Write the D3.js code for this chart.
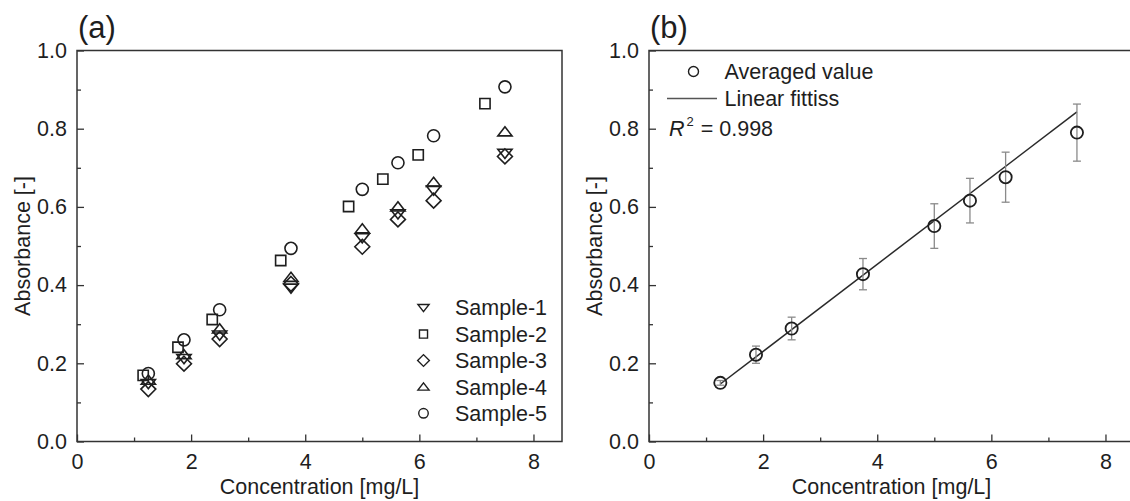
<!DOCTYPE html>
<html>
<head>
<meta charset="utf-8">
<script src="https://cdn.jsdelivr.net/npm/d3@7"></script>
<style>
  html, body { margin: 0; padding: 0; background: #fff; }
  svg { display: block; font-family: "Liberation Sans", Arial, sans-serif; }
</style>
</head>
<body>
<div id="chart"></div>
<script>
// ---- Data ----
const conc = [1.25, 1.875, 2.5, 3.75, 5.0, 5.625, 6.25, 7.5];

// panel (a): five samples
const sample1 = [0.148, 0.212, 0.272, 0.392, 0.521, 0.582, 0.643, 0.737];
const sample2X = [1.16, 1.77, 2.37, 3.57, 4.76, 5.36, 5.98, 7.15];
const sample2 = [0.169, 0.241, 0.312, 0.463, 0.601, 0.671, 0.733, 0.864];
const sample3 = [0.134, 0.199, 0.262, 0.403, 0.498, 0.568, 0.616, 0.729];
const sample4 = [0.157, 0.222, 0.288, 0.420, 0.544, 0.600, 0.663, 0.792];
const sample5 = [0.174, 0.260, 0.337, 0.494, 0.645, 0.713, 0.782, 0.907];
const sampleNames = ["Sample-1", "Sample-2", "Sample-3", "Sample-4", "Sample-5"];

// panel (b): averaged value, error and linear fit
const avgValue = [0.150, 0.222, 0.289, 0.428, 0.551, 0.616, 0.676, 0.790];
const avgError = [0.006, 0.022, 0.029, 0.040, 0.057, 0.057, 0.064, 0.073];
const fitX = [1.25, 7.5];
const fitY = [0.147, 0.843];

const xMajor = [0, 2, 4, 6, 8];
const xMinor = [1, 3, 5, 7];
const yMajor = [0, 0.2, 0.4, 0.6, 0.8, 1.0];
const yMinor = [0.1, 0.3, 0.5, 0.7, 0.9];

// ---- Layout ----
const W = 1130, H = 501;
const ink = "#1e1e1e";
const fontSize = 21.5;

const svg = d3.select("#chart").append("svg")
  .attr("width", W).attr("height", H)
  .attr("viewBox", [0, 0, W, H]);

// marker paths, centred at 0,0
function markerPath(kind, s) {
  const p = d3.path();
  if (kind === "circle") {
    p.arc(0, 0, s * 0.85, 0, 2 * Math.PI);
  } else if (kind === "square") {
    const h = s * 0.72;
    p.rect(-h, -h, 2 * h, 2 * h);
  } else if (kind === "diamond") {
    const h = s * 1.05;
    p.moveTo(0, -h); p.lineTo(h, 0); p.lineTo(0, h); p.lineTo(-h, 0); p.closePath();
  } else if (kind === "up") {
    const w = s * 1.0, t = s * 1.15;
    p.moveTo(0, -t * 0.62); p.lineTo(w, t * 0.5); p.lineTo(-w, t * 0.5); p.closePath();
  } else if (kind === "down") {
    const w = s * 1.0, t = s * 1.15;
    p.moveTo(0, t * 0.62); p.lineTo(w, -t * 0.5); p.lineTo(-w, -t * 0.5); p.closePath();
  }
  return p.toString();
}

function panel(x0, label) {
  const x = d3.scaleLinear([0, 8.5], [x0, x0 + 485]);
  const y = d3.scaleLinear([0, 1], [441.5, 50.5]);
  const g = svg.append("g");

  // frame
  g.append("rect")
    .attr("x", x(0)).attr("y", y(1))
    .attr("width", x(8.5) - x(0)).attr("height", y(0) - y(1))
    .attr("fill", "none").attr("stroke", "#333").attr("stroke-width", 1.5);

  // inward ticks
  const xAxis = d3.axisBottom(x).tickValues(xMajor).tickSize(-7).tickPadding(12)
    .tickFormat(d3.format("d"));
  g.append("g").attr("transform", `translate(0,${y(0)})`).call(xAxis);
  g.append("g").attr("transform", `translate(0,${y(0)})`)
    .call(d3.axisBottom(x).tickValues(xMinor).tickSize(-4).tickFormat(""));

  const yAxis = d3.axisLeft(y).tickValues(yMajor).tickSize(-7).tickPadding(10)
    .tickFormat(d3.format(".1f"));
  g.append("g").attr("transform", `translate(${x(0)},0)`).call(yAxis);
  g.append("g").attr("transform", `translate(${x(0)},0)`)
    .call(d3.axisLeft(y).tickValues(yMinor).tickSize(-4).tickFormat(""));

  g.selectAll(".domain").remove();
  g.selectAll(".tick line").attr("stroke", "#333").attr("stroke-width", 1.3);
  g.selectAll(".tick text")
    .attr("font-family", "Liberation Sans, Arial, sans-serif")
    .attr("font-size", fontSize).attr("fill", ink);

  // axis titles
  g.append("text")
    .attr("x", (x(0) + x(8.5)) / 2).attr("y", 494)
    .attr("text-anchor", "middle")
    .attr("font-size", fontSize).attr("fill", ink)
    .text("Concentration [mg/L]");
  g.append("text")
    .attr("transform", `translate(${x0 - 47},${(y(0) + y(1)) / 2}) rotate(-90)`)
    .attr("text-anchor", "middle")
    .attr("font-size", fontSize).attr("fill", ink)
    .text("Absorbance [-]");

  // panel label
  g.append("text")
    .attr("x", x0 + 1).attr("y", 38)
    .attr("font-size", 31).attr("fill", ink)
    .text(label);

  return { g, x, y };
}

// ---- Panel (a) ----
const a = panel(77, "(a)");
const seriesA = [
  { name: sampleNames[0], kind: "down", xs: conc, ys: sample1 },
  { name: sampleNames[1], kind: "square", xs: sample2X, ys: sample2 },
  { name: sampleNames[2], kind: "diamond", xs: conc, ys: sample3 },
  { name: sampleNames[3], kind: "up", xs: conc, ys: sample4 },
  { name: sampleNames[4], kind: "circle", xs: conc, ys: sample5 }
];

for (const s of seriesA) {
  a.g.append("g").selectAll("path")
    .data(s.xs.map((v, i) => [v, s.ys[i]]))
    .join("path")
    .attr("transform", d => `translate(${a.x(d[0])},${a.y(d[1])})`)
    .attr("d", markerPath(s.kind, 7.1))
    .attr("fill", "none").attr("stroke", ink).attr("stroke-width", 1.6);
}

// legend (a)
const legA = a.g.append("g").attr("transform", "translate(423.5,307.7)");
seriesA.forEach((s, i) => {
  const row = legA.append("g").attr("transform", `translate(0,${i * 26.4})`);
  row.append("path").attr("d", markerPath(s.kind, 5.6))
    .attr("fill", "none").attr("stroke", ink).attr("stroke-width", 1.4);
  row.append("text").attr("x", 31.5).attr("dy", "0.36em")
    .attr("font-size", fontSize).attr("fill", ink).text(s.name);
});

// ---- Panel (b) ----
const b = panel(649, "(b)");

// fit line
b.g.append("path")
  .attr("d", d3.line().x(d => b.x(d[0])).y(d => b.y(d[1]))(fitX.map((v, i) => [v, fitY[i]])))
  .attr("fill", "none").attr("stroke", "#2a2a2a").attr("stroke-width", 1.5);

// error bars
const pts = conc.map((c, i) => ({ c, v: avgValue[i], e: avgError[i] }));
const eb = b.g.append("g").attr("stroke", "#8a8a8a").attr("stroke-width", 1.3);
eb.selectAll("line.v").data(pts).join("line").attr("class", "v")
  .attr("x1", d => b.x(d.c)).attr("x2", d => b.x(d.c))
  .attr("y1", d => b.y(d.v - d.e)).attr("y2", d => b.y(d.v + d.e));
for (const sign of [-1, 1]) {
  eb.append("g").selectAll("line").data(pts).join("line")
    .attr("x1", d => b.x(d.c) - 4).attr("x2", d => b.x(d.c) + 4)
    .attr("y1", d => b.y(d.v + sign * d.e)).attr("y2", d => b.y(d.v + sign * d.e));
}

// averaged points
b.g.append("g").selectAll("circle").data(pts).join("circle")
  .attr("cx", d => b.x(d.c)).attr("cy", d => b.y(d.v)).attr("r", 6.1)
  .attr("fill", "none").attr("stroke", ink).attr("stroke-width", 1.8);

// legend (b)
const legB = b.g.append("g");
legB.append("circle").attr("cx", 693.5).attr("cy", 71.5).attr("r", 5)
  .attr("fill", "none").attr("stroke", ink).attr("stroke-width", 1.4);
legB.append("text").attr("x", 724.5).attr("y", 71.5).attr("dy", "0.36em")
  .attr("font-size", fontSize).attr("fill", ink).text("Averaged value");
legB.append("line").attr("x1", 667).attr("x2", 717).attr("y1", 98.5).attr("y2", 98.5)
  .attr("stroke", "#555").attr("stroke-width", 1.3);
legB.append("text").attr("x", 724.5).attr("y", 98.5).attr("dy", "0.36em")
  .attr("font-size", fontSize).attr("fill", ink).text("Linear fittiss");
const r2 = legB.append("text").attr("x", 669).attr("y", 136)
  .attr("font-size", fontSize).attr("fill", ink);
r2.append("tspan").attr("font-style", "italic").text("R");
r2.append("tspan").attr("font-size", 13).attr("dx", 2).attr("dy", -10).text("2");
r2.append("tspan").attr("dy", 10).attr("dx", 1).text(" = 0.998");
</script>
</body>
</html>
